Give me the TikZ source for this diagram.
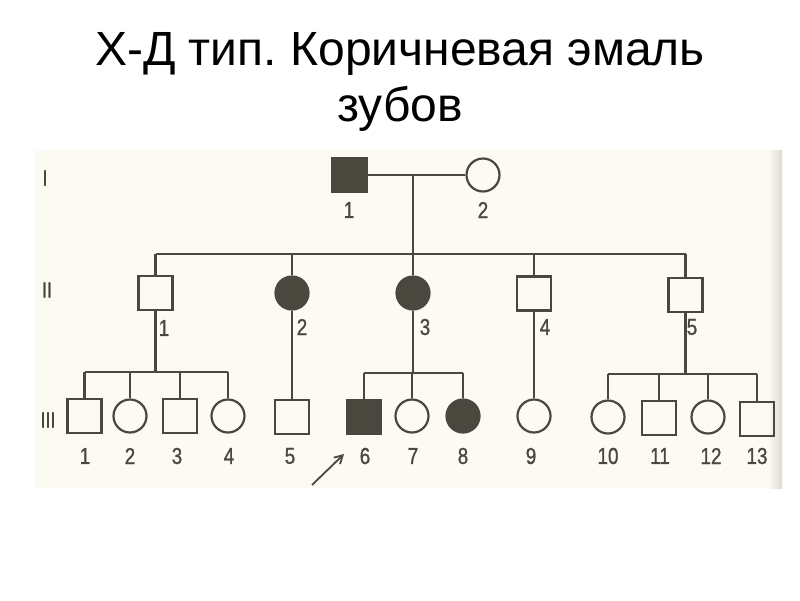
\documentclass[tikz,border=0pt]{standalone}
\usepackage{fontspec}
\setmainfont{Liberation Sans}
\newfontfamily\narrowfont[FakeStretch=0.82,FakeBold=1]{Liberation Sans}
\usetikzlibrary{arrows.meta}
\definecolor{ink}{HTML}{48483F}
\definecolor{paper}{HTML}{FBFAF3}
\definecolor{edge}{HTML}{DDDBD0}
\tikzset{
  line/.style={draw=ink, line width=2.2pt},
  male/.style={rectangle, draw=ink, line width=2.2pt, minimum size=34pt, inner sep=0pt},
  female/.style={circle, draw=ink, line width=2.2pt, minimum size=33pt, inner sep=0pt},
  aff/.style={fill=ink},
  lab/.style={font=\narrowfont\fontsize{23}{23}\selectfont, text=ink, inner sep=0pt},
  gen/.style={font=\narrowfont\fontsize{22}{22}\selectfont, text=ink, inner sep=0pt},
  title/.style={font=\fontsize{48}{48}\selectfont, anchor=base, inner sep=0pt}
}
\begin{document}
\frenchspacing
\begin{tikzpicture}[x=1pt,y=-1pt]
\useasboundingbox (0,0) rectangle (800,600);
\fill[white] (0,0) rectangle (800,600);
\fill[paper] (35,150) rectangle (782,488);
\shade[left color=paper, right color=edge] (768,150) rectangle (782,488);

% title
\node[title] (t1) at (400,65) {Х-Д тип. Коричневая эмаль};
\node[title] (t2) at (400,121) {зубов};

% generation numerals
\node[gen] (gI) at (45,178) {I};
\node[gen] (gII) at (47,290) {II};
\node[gen] (gIII) at (48,420) {III};

% generation I
\node[male,aff] (I1) at (349.5,175) {};
\node[female] (I2) at (483,175) {};
\draw[line] (I1) -- (I2);
\coordinate (mI) at (413,175);
\coordinate (sII) at (413,254);
\draw[line] (mI) -- (sII);
\node[lab] at (349,210) {1};
\node[lab] at (483,210) {2};

% generation II
\node[male] (II1) at (155.5,293) {};
\node[female,aff] (II2) at (292,293) {};
\node[female,aff] (II3) at (413,293) {};
\node[male] (II4) at (534,293.5) {};
\node[male] (II5) at (685.5,295) {};
\coordinate (sIIa) at (155.5,254);
\coordinate (sIIb) at (685.5,254);
\draw[line] (sIIa) -- (sIIb);
\foreach \n in {II1,II2,II3,II4,II5} \draw[line] (\n.north) -- (\n.north |- sIIa);
\node[lab] at (164,328) {1};
\node[lab] at (302,327) {2};
\node[lab] at (425,327) {3};
\node[lab] at (545,327) {4};
\node[lab] at (692,327) {5};

% generation III
\node[male] (III1) at (84.5,416) {};
\node[female] (III2) at (130,416) {};
\node[male] (III3) at (180,416) {};
\node[female] (III4) at (228,416) {};
\node[male] (III5) at (292,417) {};
\node[male,aff] (III6) at (364,417) {};
\node[female] (III7) at (412,416) {};
\node[female,aff] (III8) at (463,416) {};
\node[female] (III9) at (534,416) {};
\node[female] (III10) at (608,417) {};
\node[male] (III11) at (659,418) {};
\node[female] (III12) at (708,417) {};
\node[male] (III13) at (757,419) {};

% sibship of II-1
\coordinate (sA) at (155.5,372);
\draw[line] (II1.south) -- (sA);
\draw[line] (III1.north |- sA) -- (III4.north |- sA);
\foreach \n in {III1,III2,III3,III4} \draw[line] (\n.north) -- (\n.north |- sA);
% II-2 -> III-5
\draw[line] (II2.south) -- (III5.north);
% sibship of II-3
\coordinate (sB) at (413,373);
\draw[line] (II3.south) -- (sB);
\draw[line] (III6.north |- sB) -- (III8.north |- sB);
\foreach \n in {III6,III7,III8} \draw[line] (\n.north) -- (\n.north |- sB);
% II-4 -> III-9
\draw[line] (II4.south) -- (III9.north);
% sibship of II-5
\coordinate (sC) at (685.5,374);
\draw[line] (II5.south) -- (sC);
\draw[line] (III10.north |- sC) -- (III13.north |- sC);
\foreach \n in {III10,III11,III12,III13} \draw[line] (\n.north) -- (\n.north |- sC);

\foreach \n/\x in {1/85,2/130,3/177,4/229,5/290,6/365,7/413,8/463,9/531,10/608,11/660,12/711,13/757}
  \node[lab] (L\n) at (\x,456) {\n};

% proband arrow
\coordinate (pa) at (312,485);
\coordinate (pb) at (344,454);
\draw[line, line width=1.8pt, -{Straight Barb[length=8pt,width=9pt]}] (pa) -- (pb);
\end{tikzpicture}
\end{document}
